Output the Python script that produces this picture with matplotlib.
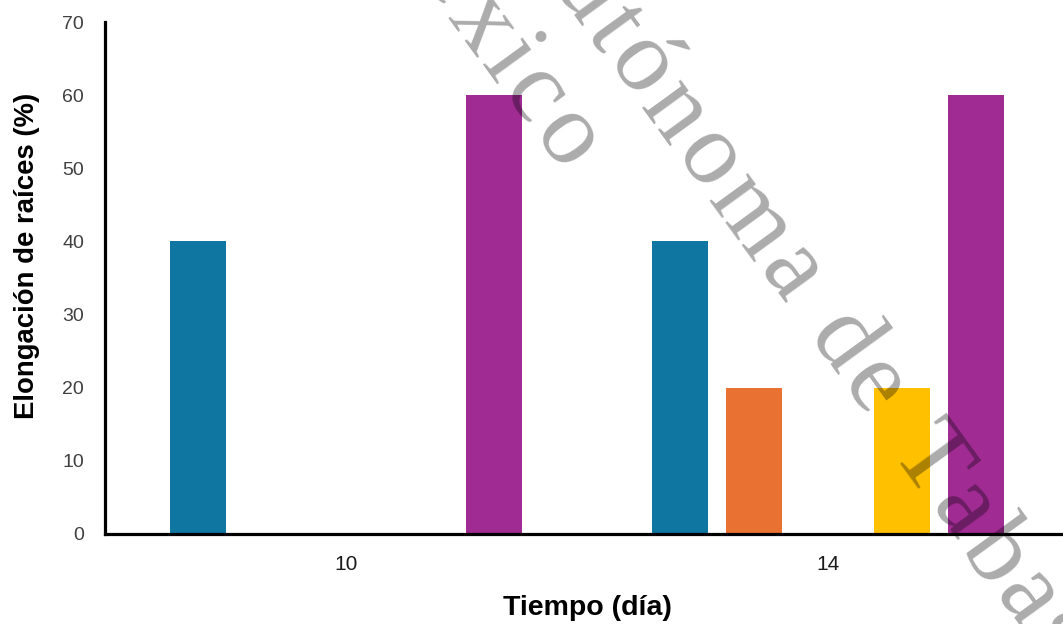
import matplotlib
matplotlib.use("Agg")
from matplotlib import pyplot as plt
import numpy as np

# datos
dias = ["10", "14"]
serie1 = [40, 40]
serie2 = [0, 20]
serie3 = [0, 0]
serie4 = [0, 20]
serie5 = [60, 60]
series = [serie1, serie2, serie3, serie4, serie5]
colores = ["#0E76A0", "#E97132", "#A5A5A5", "#FFC000", "#A02B93"]

plt.rcParams['font.family'] = ['Liberation Sans', 'DejaVu Sans']

W, H = 1063, 624
fig = plt.figure(figsize=(W/100, H/100), dpi=100)
ax = fig.add_axes([105/W, 90/H, 964/W, 512/H])

x = np.arange(len(dias))
paso = 0.1535
ancho = 0.118
for i, (vals, c) in enumerate(zip(series, colores)):
    ax.bar(x + (i - 2)*paso, vals, width=ancho, color=c, linewidth=0)

ax.set_xlim(-0.5, 1.5)
ax.set_ylim(0, 70)
ax.set_yticks(range(0, 71, 10))
ax.set_xticks(x)
ax.set_xticklabels(dias, fontsize=15, color='#1a1a1a')
ax.tick_params(axis='y', length=0, pad=15, labelsize=14, labelcolor='#404040')
ax.tick_params(axis='x', length=0, pad=15)
for s in ['top', 'right']:
    ax.spines[s].set_visible(False)
ax.spines['left'].set_linewidth(2.3)
ax.spines['bottom'].set_linewidth(2.3)

ax.set_ylabel("Elongación de raíces (%)", fontsize=19.8, fontweight='bold')
ax.yaxis.set_label_coords(-0.0674, 0.543)
ax.set_xlabel("Tiempo (día)", fontsize=20.5, fontweight='bold', labelpad=15.5)

# marca de agua (letra por letra, con espaciado extra)
ang = 54
ux, uy = np.cos(np.radians(ang)), np.sin(np.radians(ang))
vx, vy = uy, -ux
r = fig.canvas.get_renderer()
wm = dict(family='Liberation Serif', fontsize=74)

def ancho_letra(ch):
    t1 = fig.text(0, 0, "x" + ch + "x", **wm)
    t2 = fig.text(0, 0, "xx", **wm)
    w = t1.get_window_extent(r).width - t2.get_window_extent(r).width
    t1.remove(); t2.remove()
    return w

def marca(texto, i_ref, s_ref, p_base, extra=6):
    ws = [ancho_letra(ch) for ch in texto]
    centros = []
    acum = 0
    for w in ws:
        centros.append(acum + w/2)
        acum += w + extra
    for ch, c in zip(texto, centros):
        s = s_ref + c - centros[i_ref]
        px = ux*s + vx*p_base
        py = uy*s + vy*p_base
        # solo las letras que caen (al menos en parte) dentro de la imagen
        if py < -50 or py > H + 60 or px > W + 60 or ch == " ":
            continue
        fig.text(px/W, 1 - py/H, ch, color='black', alpha=0.33,
                 rotation=-ang, rotation_mode='anchor',
                 ha='center', va='baseline', **wm)

marca("Universidad Juárez Autónoma de Tabasco", 22, 430.5, 454)
marca("México", 5, 445.5, 351)

fig.savefig("out.png", dpi=100)
